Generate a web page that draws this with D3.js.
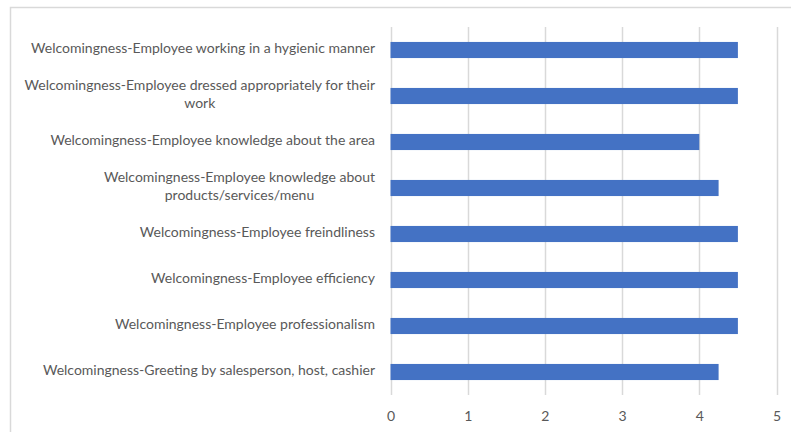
<!DOCTYPE html>
<html>
<head>
<meta charset="utf-8">
<script src="https://cdn.jsdelivr.net/npm/d3@7"></script>
<style>
  html, body { margin: 0; padding: 0; background: #fff; }
  svg { display: block; }
  text { font-family: Lato, "Open Sans", sans-serif; fill: #595959; }
</style>
</head>
<body>
<svg id="chart" width="791" height="432"></svg>
<script>
// Survey ratings, top to bottom
const categories = [
  "Welcomingness-Employee working in a hygienic manner",
  "Welcomingness-Employee dressed appropriately for their work",
  "Welcomingness-Employee knowledge about the area",
  "Welcomingness-Employee knowledge about products/services/menu",
  "Welcomingness-Employee freindliness",
  "Welcomingness-Employee efficiency",
  "Welcomingness-Employee professionalism",
  "Welcomingness-Greeting by salesperson, host, cashier"
];
const values = [4.5, 4.5, 4.0, 4.25, 4.5, 4.5, 4.5, 4.25];
const xTicks = [0, 1, 2, 3, 4, 5];

const svg = d3.select("#chart");
const margin = { left: 390.5, right: 14.5, top: 27, bottom: 37 };
const W = 791, H = 432;

// chart frame
svg.append("rect")
  .attr("x", 10.5).attr("y", 7.5)
  .attr("width", 800).attr("height", 440)
  .attr("fill", "none").attr("stroke", "#d9d9d9").attr("stroke-width", 1.5);

const x = d3.scaleLinear().domain([0, 5]).range([margin.left, W - margin.right]);
const y = d3.scaleBand().domain(categories).range([margin.top, H - margin.bottom]).paddingInner(0.65).paddingOuter(0.325);

// vertical gridlines
svg.append("g")
  .selectAll("line")
  .data(xTicks)
  .join("line")
  .attr("x1", d => Math.round(x(d)) + 0.5)
  .attr("x2", d => Math.round(x(d)) + 0.5)
  .attr("y1", margin.top)
  .attr("y2", H - margin.bottom)
  .attr("stroke", "#d9d9d9")
  .attr("stroke-width", 1.5);

// bars
svg.append("g")
  .selectAll("rect")
  .data(categories)
  .join("rect")
  .attr("x", x(0))
  .attr("y", d => y(d))
  .attr("width", (d, i) => x(values[i]) - x(0))
  .attr("height", y.bandwidth())
  .attr("fill", "#4472c4");

// x axis tick labels
const xAxis = d3.axisBottom(x).tickValues(xTicks).tickSize(0).tickPadding(0).tickFormat(d3.format("d"));
const xg = svg.append("g").attr("transform", `translate(0,${H - margin.bottom + 16})`).call(xAxis);
xg.select(".domain").remove();
xg.selectAll("text").attr("font-size", 14).attr("font-family", null).attr("fill", "#595959");

// category labels, wrapped and centred within a right-aligned block
const labelRight = 375;
const maxWidth = 365;
const lineH = 18;
const fontSize = 14;
const lg = svg.append("g");
categories.forEach(cat => {
  const cy = y(cat) + y.bandwidth() / 2;
  const probe = lg.append("text").attr("font-size", fontSize);
  const words = cat.split(" ");
  const lines = [];
  let cur = [];
  words.forEach(w => {
    const trial = cur.concat([w]).join(" ");
    probe.text(trial);
    if (probe.node().getComputedTextLength() > maxWidth && cur.length) {
      lines.push(cur.join(" "));
      cur = [w];
    } else {
      cur.push(w);
    }
  });
  lines.push(cur.join(" "));
  const widths = lines.map(l => { probe.text(l); return probe.node().getComputedTextLength(); });
  probe.remove();
  const blockW = d3.max(widths);
  const centreX = labelRight - blockW / 2;
  const y0 = cy - (lines.length - 1) * lineH / 2 - 1.5;
  lines.forEach((l, i) => {
    lg.append("text")
      .attr("font-size", fontSize)
      .attr("x", centreX)
      .attr("y", y0 + i * lineH)
      .attr("dy", "0.35em")
      .attr("text-anchor", "middle")
      .text(l);
  });
});
</script>
</body>
</html>
